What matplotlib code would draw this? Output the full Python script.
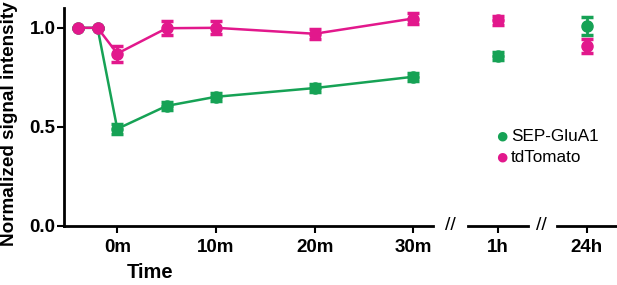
import matplotlib.pyplot as plt

plt.rcParams['font.family'] = ['Liberation Sans', 'DejaVu Sans']

# time in minutes for the first panel, then 1h and 24h
t_min = [-4, -2, 0, 5, 10, 20, 30]
late_labels = ['1h', '24h']

sep_min = [1.0, 1.0, 0.49, 0.606, 0.652, 0.696, 0.753]
sep_min_err = [0, 0, 0.025, 0.022, 0.02, 0.02, 0.02]
sep_late = [0.86, 1.01]
sep_late_err = [0.02, 0.045]

td_min = [1.0, 1.0, 0.87, 0.998, 1.0, 0.97, 1.047]
td_min_err = [0, 0, 0.04, 0.035, 0.032, 0.025, 0.03]
td_late = [1.037, 0.91]
td_late_err = [0.025, 0.035]

green = '#16a255'
pink = '#e2188c'

W, H = 617, 285
fig = plt.figure(figsize=(W / 100, H / 100), dpi=100)

def box(x0, x1):
    y0, y1 = 226, 8
    return [x0 / W, 1 - y0 / H, (x1 - x0) / W, (y0 - y1) / H]

ax1 = fig.add_axes(box(64, 433))
ax2 = fig.add_axes(box(468, 528))
ax3 = fig.add_axes(box(557, 617))

ekw = dict(elinewidth=2, capsize=4, capthick=2.5, markersize=8, marker='o')
ax1.errorbar(t_min, sep_min, yerr=sep_min_err, color=green, lw=1.8, **ekw)
ax1.errorbar(t_min, td_min, yerr=td_min_err, color=pink, lw=1.8, **ekw)
ax1.set_xlim(-5.4, 32.0)
ax1.set_xticks([0, 10, 20, 30])
ax1.set_xticklabels(['0m', '10m', '20m', '30m'])

for ax, i in ((ax2, 0), (ax3, 1)):
    ax.errorbar([0], [sep_late[i]], yerr=[sep_late_err[i]], color=green, ls='none', **ekw)
    ax.errorbar([0], [td_late[i]], yerr=[td_late_err[i]], color=pink, ls='none', **ekw)
    ax.set_xlim(-1, 1.02)
    ax.set_xticks([0])
    ax.set_xticklabels([late_labels[i]])
    ax.spines['left'].set_visible(False)
    ax.set_yticks([])

for ax in (ax1, ax2, ax3):
    ax.set_ylim(0, 1.1)
    ax.patch.set_alpha(0)
    for s in ('top', 'right'):
        ax.spines[s].set_visible(False)
    for s in ('left', 'bottom'):
        ax.spines[s].set_linewidth(2)
    ax.tick_params(width=1.5, length=5, labelsize=13.5, pad=4)
    for lab in ax.get_xticklabels() + ax.get_yticklabels():
        lab.set_fontweight('bold')

ax1.set_yticks([0, 0.5, 1.0])
ax1.set_yticklabels(['0.0', '0.5', '1.0'])
for lab in ax1.get_yticklabels():
    lab.set_fontweight('bold')
ax1.tick_params(axis='y', pad=1)

fig.text(10 / W, 1 - 124 / H, 'Normalized signal intensity', fontsize=13.6,
         fontweight='bold', rotation=90, ha='center', va='center')

# axis break marks
for xb in (450, 541):
    fig.text(xb / W, 1 - 226 / H, '//', fontsize=14, ha='center', va='center')

fig.text(150 / W, 1 - 272 / H, 'Time', fontsize=14.5, fontweight='bold', ha='center', va='center')

# legend
fig.text(502 / W, 1 - 137 / H, '●', color=green, fontsize=16, ha='center', va='center')
fig.text(502 / W, 1 - 158 / H, '●', color=pink, fontsize=16, ha='center', va='center')
fig.text(511 / W, 1 - 137 / H, 'SEP-GluA1', fontsize=12.3, ha='left', va='center')
fig.text(511 / W, 1 - 158 / H, 'tdTomato', fontsize=12.3, ha='left', va='center')

fig.savefig('out.png', dpi=100)
